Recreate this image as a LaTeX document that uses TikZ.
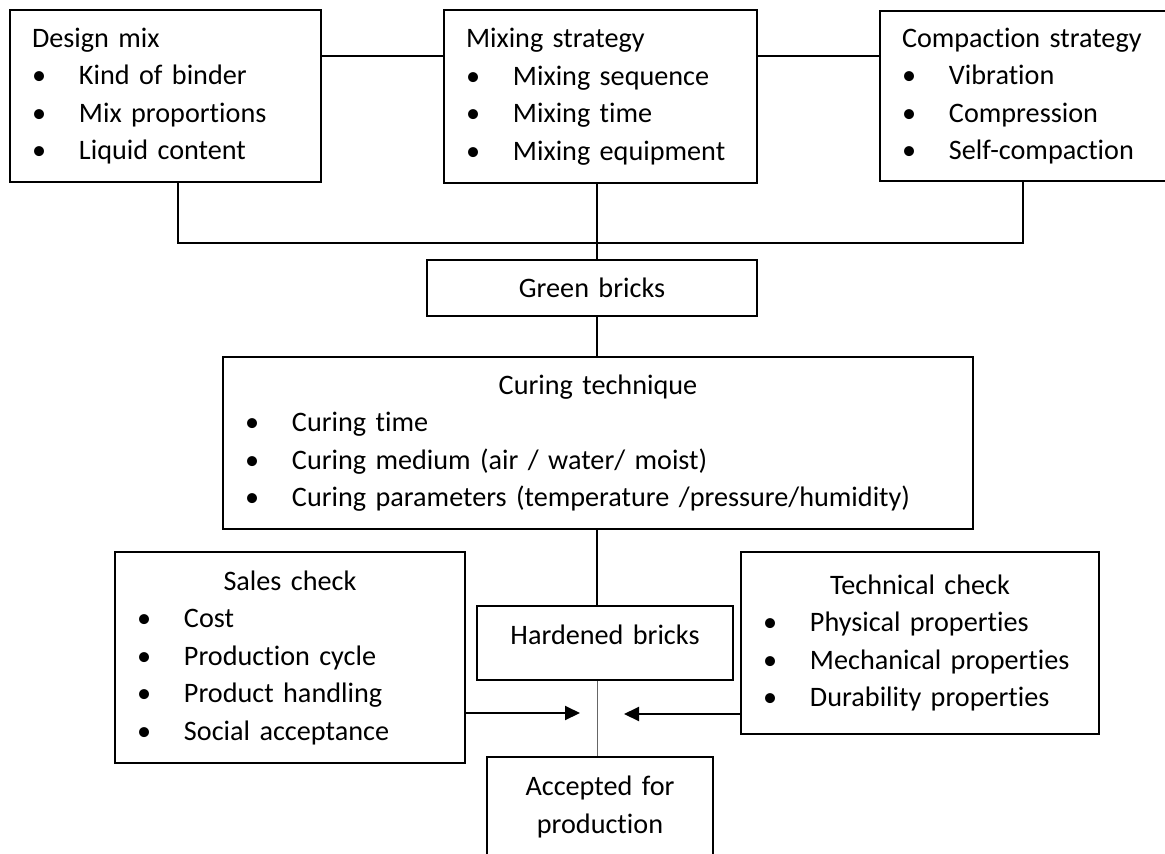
\documentclass[tikz,border=0pt]{standalone}
\usepackage{fontspec}
\setmainfont{Carlito}[Ligatures={NoCommon}]
\usepackage{tikz}
\usetikzlibrary{arrows.meta}

\newcommand{\itm}[1]{\makebox[47pt][l]{\textbullet}#1}
\newcommand{\ttl}[1]{\makebox[\hsize]{#1}}

\begin{document}
\begin{tikzpicture}[x=1pt, y=-1pt, line width=2pt,
        every node/.style = {shape=rectangle, draw, align=left, anchor=north west,
            inner xsep=22pt, inner ysep=0pt, font=\fontsize{28.2}{37.5}\selectfont},
        arr/.style = {-{Triangle[length=15pt, width=14pt]}}]
        \clip (0,0) rectangle (1165,854);
        % top row
        \node [text width=267pt, minimum height=172pt] (design) at (9,9)
            {Design mix\\ \itm{Kind of binder}\\ \itm{Mix proportions}\\ \itm{Liquid content}};
        \node [text width=269pt, minimum height=173pt] (mixing) at (443,9)
            {Mixing strategy\\ \itm{Mixing sequence}\\ \itm{Mixing time}\\ \itm{Mixing equipment}};
        \node [text width=245pt, minimum height=170pt] (compaction) at (879,10)
            {Compaction strategy\\ \itm{Vibration}\\ \itm{Compression}\\ \itm{Self-compaction}};
        % middle
        \node [text width=286pt, minimum height=56pt, align=center] (green) at (426,259) {Green bricks};
        \node [text width=706pt, minimum height=172pt] (curing) at (222,356)
            {\ttl{Curing technique}\\ \itm{Curing time}\\ \itm{Curing medium (air / water/ moist)}\\
             \itm{Curing parameters (temperature /pressure/humidity)}};
        % checks
        \node [text width=306pt, minimum height=211pt] (sales) at (114,551)
            {\ttl{Sales check}\\ \itm{Cost}\\ \itm{Production cycle}\\ \itm{Product handling}\\ \itm{Social acceptance}};
        \node [text width=314pt, minimum height=182pt] (tech) at (740,551)
            {\ttl{Technical check}\\ \itm{Physical properties}\\ \itm{Mechanical properties}\\ \itm{Durability properties}};
        \node [text width=212pt, minimum height=74pt, align=center, text height=19pt, text depth=17pt] (hardened) at (476,605)
            {Hardened bricks};
        \node [text width=182pt, inner ysep=19pt, align=center] (accepted) at (486,756)
            {Accepted for\\ production};

        \coordinate (spine) at (597,0);
        \coordinate (toprow) at (0,56);
        \coordinate (bar) at (597,243);
        \coordinate (salesin) at (580,713);
        \coordinate (techin) at (624,714);

        \draw (design.east |- toprow) -- (mixing.west |- toprow);
        \draw (mixing.east |- toprow) -- (compaction.west |- toprow);
        \draw ([xshift=12pt]design.south) |- (bar) -| ([xshift=-2pt]compaction.south);
        \draw (mixing.south -| spine) -- (green.north -| spine);
        \draw (green.south -| spine) -- (curing.north -| spine);
        \draw (curing.south -| spine) -- (hardened.north -| spine);
        \draw [line width=1pt, black!60] (hardened.south -| spine) -- (accepted.north -| spine);
        \draw [arr] (sales.east |- salesin) -- (salesin);
        \draw [arr] (tech.west |- techin) -- (techin);
\end{tikzpicture}
\end{document}
